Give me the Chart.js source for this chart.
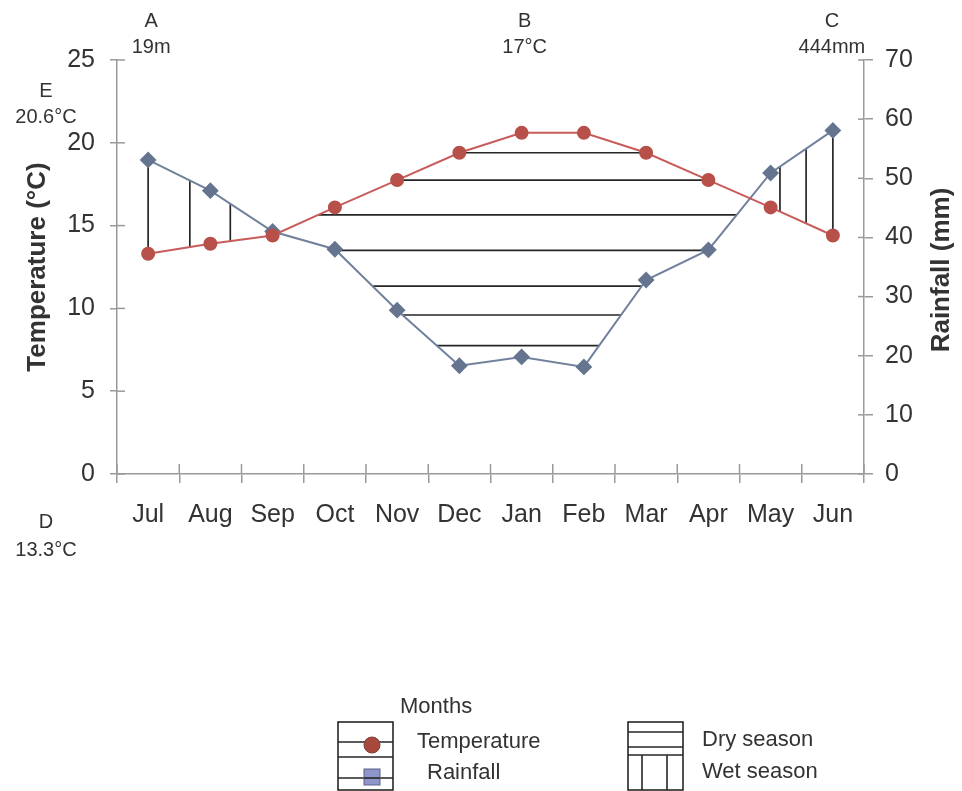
<!DOCTYPE html>
<html><head><meta charset="utf-8">
<script src="https://cdn.jsdelivr.net/npm/chart.js@4.4.0/dist/chart.umd.min.js"></script>
<style>html,body{margin:0;padding:0;background:#fff}#wrap{width:962px;height:791px;position:relative}</style>
</head><body><div id="wrap"><canvas id="c"></canvas></div>
<script>
// ---- data ----
const months = ['Jul','Aug','Sep','Oct','Nov','Dec','Jan','Feb','Mar','Apr','May','Jun'];
const temperature = [13.3, 13.9, 14.4, 16.1, 17.75, 19.4, 20.6, 20.6, 19.4, 17.75, 16.1, 14.4];
const rainfall = [53.1, 47.9, 41.0, 38.0, 27.7, 18.3, 19.8, 18.1, 32.8, 37.9, 50.9, 58.1];
const tempTicks = [0, 5, 10, 15, 20, 25];
const rainTicks = [0, 10, 20, 30, 40, 50, 60, 70];
// hatching: dry-season horizontal levels (°C) and wet-season vertical positions (month index)
const dryLevels = [19.4, 17.75, 15.65, 13.5, 11.35, 9.6, 7.75];
const wetPositions = [0, 0.67, 1.32, 10.15, 10.57, 11];
const altitude = '19m';

// ---- derived ----
const tMax = tempTicks[tempTicks.length - 1], rMax = rainTicks[rainTicks.length - 1];
const rainEq = rainfall.map(r => r * tMax / rMax);
function interp(arr, p) {
  const i = Math.min(Math.floor(p), arr.length - 2), s = p - i;
  return arr[i] + (arr[i + 1] - arr[i]) * s;
}
function drySpan(L) {
  let lo = Infinity, hi = -Infinity;
  for (let i = 0; i < months.length - 1; i++) {
    const a = temperature[i], b = temperature[i + 1], c = rainEq[i], d = rainEq[i + 1];
    let s0 = 0, s1 = 1;
    if (b - a > 0) s0 = Math.max(s0, (L - a) / (b - a));
    else if (b - a < 0) s1 = Math.min(s1, (L - a) / (b - a));
    else if (a < L) continue;
    if (d - c > 0) s1 = Math.min(s1, (L - c) / (d - c));
    else if (d - c < 0) s0 = Math.max(s0, (L - c) / (d - c));
    else if (c > L) continue;
    if (s0 <= s1 + 1e-9) { lo = Math.min(lo, i + s0); hi = Math.max(hi, i + s1); }
  }
  return lo <= hi ? [lo, hi] : null;
}
const hatchStyle = {borderColor: '#262626', borderWidth: 1.7, pointRadius: 0, fill: false, order: 10, yAxisID: 'y', xAxisID: 'x'};
const hatchSets = [];
dryLevels.forEach(L => { const sp = drySpan(L); if (sp) hatchSets.push(Object.assign({data: [{x: sp[0], y: L}, {x: sp[1], y: L}]}, hatchStyle)); });
wetPositions.forEach(p => hatchSets.push(Object.assign({data: [{x: p, y: interp(temperature, p)}, {x: p, y: interp(rainEq, p)}]}, hatchStyle)));

const meanT = temperature.reduce((a, b) => a + b, 0) / temperature.length;
const sumR = rainfall.reduce((a, b) => a + b, 0);
const maxT = Math.max(...temperature), minT = Math.min(...temperature);

Chart.defaults.font.family = "'Liberation Sans', Arial, sans-serif";
const AXIS = '#9a9a9a', TXT = '#333333';

const extras = {
  id: 'extras',
  afterDraw(chart) {
    const ctx = chart.ctx, ca = chart.chartArea, {x, y, y1} = chart.scales;
    ctx.save();
    ctx.strokeStyle = AXIS; ctx.lineWidth = 1.5;
    const ln = (a, b, c, d) => { ctx.beginPath(); ctx.moveTo(a, b); ctx.lineTo(c, d); ctx.stroke(); };
    x.ticks.forEach(t => { if (!Number.isInteger(t.value)) { const px = x.getPixelForValue(t.value); ln(px, ca.bottom, px, ca.bottom - 10); } });
    y.ticks.forEach(t => { const py = y.getPixelForValue(t.value); ln(ca.left, py, ca.left + 8, py); });
    y1.ticks.forEach(t => { const py = y1.getPixelForValue(t.value); ln(ca.right - 6, py, ca.right, py); });
    // right axis title (reads bottom-to-top like the left one)
    ctx.fillStyle = TXT; ctx.textAlign = 'center'; ctx.textBaseline = 'middle';
    ctx.save();
    ctx.translate(942, (ca.top + ca.bottom) / 2 + 3);
    ctx.rotate(-Math.PI / 2);
    ctx.font = "bold 26px 'Liberation Sans', Arial, sans-serif";
    ctx.fillText('Rainfall (mm)', 0, 0);
    ctx.restore();
    // annotations
    ctx.font = "20px 'Liberation Sans', Arial, sans-serif";
    const ann = [
      [x.getPixelForValue(0) + 3, 'A', altitude],
      [x.getPixelForValue(6) + 3, 'B', Math.round(meanT) + '°C'],
      [x.getPixelForValue(11) - 1, 'C', Math.round(sumR) + 'mm']
    ];
    ann.forEach(a => { ctx.fillText(a[1], a[0], 21); ctx.fillText(a[2], a[0], 47); });
    ctx.fillText('E', 46, 91); ctx.fillText(maxT.toFixed(1) + '°C', 46, 117);
    ctx.fillText('D', 46, 522); ctx.fillText(minT.toFixed(1) + '°C', 46, 550);
    // legend
    ctx.font = "22px 'Liberation Sans', Arial, sans-serif";
    ctx.textAlign = 'left';
    ctx.fillText('Months', 400, 707);
    ctx.fillText('Temperature', 417, 742);
    ctx.fillText('Rainfall', 427, 773);
    ctx.fillText('Dry season', 702, 740);
    ctx.fillText('Wet season', 702, 772);
    ctx.strokeStyle = '#262626'; ctx.lineWidth = 1.6;
    ctx.strokeRect(338, 722, 55, 68);
    ln(338, 742, 393, 742); ln(338, 757, 393, 757); ln(338, 778, 393, 778);
    ctx.strokeRect(628, 722, 55, 68);
    ln(628, 732, 683, 732); ln(628, 747, 683, 747); ln(628, 755, 683, 755);
    ln(642, 755, 642, 790); ln(667, 755, 667, 790);
    ctx.beginPath(); ctx.arc(372, 745, 8, 0, Math.PI * 2);
    ctx.fillStyle = '#a8493e'; ctx.fill(); ctx.strokeStyle = '#7d3a32'; ctx.lineWidth = 1; ctx.stroke();
    ctx.fillStyle = '#8d95c9'; ctx.fillRect(364, 769, 16, 16);
    ctx.strokeStyle = '#5c6088'; ctx.strokeRect(364, 769, 16, 16);
    ctx.strokeStyle = '#262626'; ctx.lineWidth = 1.6; ln(364, 778, 380, 778);
    ctx.restore();
  }
};

new Chart(document.getElementById('c'), {
  type: 'line',
  data: {
    datasets: [
      {label: 'Temperature', data: months.map((m, i) => ({x: i, y: temperature[i]})), yAxisID: 'y', xAxisID: 'x',
       borderColor: '#c85c5a', borderWidth: 2, pointStyle: 'circle', pointRadius: 6,
       pointBackgroundColor: '#b8504a', pointBorderColor: '#b8504a', fill: false, order: 0},
      {label: 'Rainfall', data: months.map((m, i) => ({x: i, y: rainfall[i]})), yAxisID: 'y1', xAxisID: 'x',
       borderColor: '#71809c', borderWidth: 2, pointStyle: 'rectRot', pointRadius: 7,
       pointBackgroundColor: '#66758f', pointBorderColor: '#66758f', fill: false, order: 1},
      ...hatchSets
    ]
  },
  options: {
    responsive: true, maintainAspectRatio: false, animation: false,
    layout: {padding: {top: 60, left: 0, right: 0, bottom: 0}},
    plugins: {legend: {display: false}, tooltip: {enabled: false}},
    elements: {line: {tension: 0}},
    scales: {
      x: {
        type: 'linear', min: -0.5, max: 11.5,
        afterBuildTicks: s => { s.ticks = []; for (let k = 0; k <= months.length * 2; k++) s.ticks.push({value: -0.5 + k * 0.5}); },
        afterFit: s => { s.height = 317; },
        grid: {drawOnChartArea: false, drawTicks: true, tickLength: 9, lineWidth: 1.5,
               color: c => (c.tick && Number.isInteger(c.tick.value)) ? 'rgba(0,0,0,0)' : AXIS},
        border: {display: true, color: AXIS, width: 1.5},
        ticks: {autoSkip: false, maxRotation: 0, minRotation: 0, padding: 17, color: TXT, font: {size: 25},
                callback: v => Number.isInteger(v) ? months[v] : ''}
      },
      y: {
        type: 'linear', position: 'left', min: 0, max: tMax,
        afterBuildTicks: s => { s.ticks = tempTicks.map(v => ({value: v})); },
        afterFit: s => { s.width = 117; },
        grid: {drawOnChartArea: false, tickLength: 7, lineWidth: 1.5, color: AXIS},
        border: {display: true, color: AXIS, width: 1.5},
        ticks: {padding: 15, color: TXT, font: {size: 25}},
        title: {display: true, text: 'Temperature (°C)', color: TXT, font: {size: 26, weight: 'bold'}, padding: {top: 22, bottom: 0}}
      },
      y1: {
        type: 'linear', position: 'right', min: 0, max: rMax,
        afterBuildTicks: s => { s.ticks = rainTicks.map(v => ({value: v})); },
        afterFit: s => { s.width = 98; },
        grid: {drawOnChartArea: false, tickLength: 9, lineWidth: 1.5, color: AXIS},
        border: {display: true, color: AXIS, width: 1.5},
        ticks: {padding: 12, color: TXT, font: {size: 25}}
      }
    }
  },
  plugins: [extras]
});
</script></body></html>
